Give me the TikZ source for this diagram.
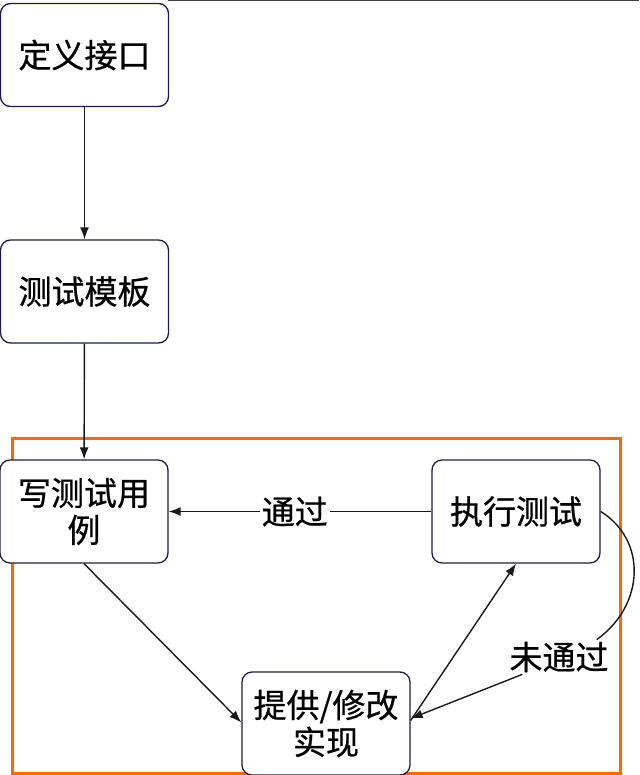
\documentclass[tikz,border=0pt]{standalone}
\usepackage{fontspec}
\setmainfont{Noto Sans CJK SC}[FakeBold=0.6]
\usetikzlibrary{arrows.meta}
\definecolor{boxline}{HTML}{1C1C4E}
\definecolor{frameorange}{HTML}{FF6A00}
\tikzset{
  stepbox/.style={draw=boxline, line width=1.3pt, rounded corners=10pt, fill=white,
    minimum width=168pt, minimum height=103pt, align=center, inner sep=0pt,
    font=\fontsize{33}{37}\selectfont},
  lbl/.style={fill=white, inner sep=2pt, font=\fontsize{33}{37}\selectfont},
  conn/.style={draw=black!90, line width=1.4pt},
  arr/.style={conn, -{Latex[length=12pt,width=9pt]}}
}
\begin{document}
\begin{tikzpicture}[x=1pt,y=-1pt]
\useasboundingbox (0,0) rectangle (639,775);
\fill[white] (0,0) rectangle (639,775);
\draw[black!75, line width=1.4pt] (168,0.7) -- (639,0.7);
\draw[frameorange, line width=3pt] (12,438.5) rectangle (620,773);
\node[stepbox] (e1) at (84.5,55) {定义接口};
\node[stepbox] (e2) at (84.5,291.5) {测试模板};
\node[stepbox] (e3) at (84,511.5) {写测试用\\例};
\node[stepbox] (e4) at (516,511.5) {执行测试};
\node[stepbox] (e5) at (326,723.5) {提供/修改\\实现};
\node[lbl] (nl) at (559,657) {未通过};
\draw[arr] (e1) -- (e2);
\draw[arr] (e2) -- (e3);
\draw[arr] (e4.west) -- node[lbl, pos=0.52] {通过} (e3.east);
\draw[arr] (e3.south) -- ([yshift=1pt]e5.west);
\draw[arr] ([yshift=3pt]e5.east) -- (e4.south);
\draw[conn] (e4.east) .. controls (647,540) and (645,605) .. ([xshift=-14pt]nl.north east);
\draw[arr] ([xshift=15pt]nl.south west) -- ([yshift=5pt]e5.east);
\end{tikzpicture}
\end{document}
